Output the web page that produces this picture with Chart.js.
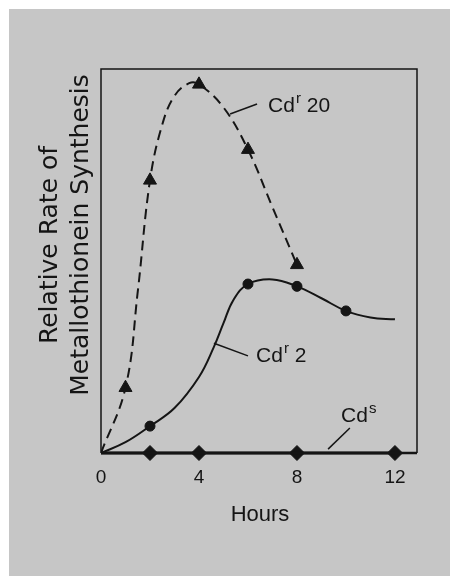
<!DOCTYPE html>
<html>
<head>
<meta charset="utf-8">
<script src="https://cdn.jsdelivr.net/npm/chart.js@4"></script>
<style>
  html, body { margin: 0; padding: 0; background: #fff; }
  canvas { display: block; }
</style>
</head>
<body>
<canvas id="chart" width="450" height="576"></canvas>
<script>
// ------------------------
// Data (hours vs relative rate, 0-100)
// ------------------------
const xTicks = [0, 4, 8, 12];

// Cd^r 20: measured points (triangles) and the traced dashed curve
const cd20Hours = [1, 2, 4, 6, 8];
const cd20Rate = [17, 71, 96, 79, 49];
const cd20CurveHours = [0, 1, 1.5, 2, 2.5, 3, 3.6, 4, 5, 6, 7, 8];
const cd20CurveRate = [0, 17, 42, 71, 85.5, 93, 96.3, 96, 90, 79, 64, 49];

// Cd^r 2: measured points (circles) and the traced solid curve
const cd2Hours = [2, 6, 8, 10];
const cd2Rate = [7, 44, 43.4, 37];
const cd2CurveHours = [0, 1, 2, 3, 4, 4.6, 5, 5.4, 6, 7, 8, 9, 10, 11, 12];
const cd2CurveRate = [0, 2.8, 7, 11.7, 19.8, 27.5, 33.8, 39.8, 44, 45.2, 43.4, 40.3, 37, 35.3, 34.8];

// Cd^s: measured points (diamonds) along the baseline
const cdsHours = [2, 4, 8, 12];
const cdsRate = [0, 0, 0, 0];
const cdsLineHours = [0, 12];
const cdsLineRate = [0, 0];

// curve labels: [text, superscript, rest, labelX, labelY, leaderFrom, leaderTo] in data units
const curveLabels = [
    ["Cd", "r", " 20", 6.82, 88.8, [5.27, 88.3], [6.37, 90.9]],
    ["Cd", "r", " 2", 6.33, 23.7, [4.61, 28.6], [6.0, 25.3]],
    ["Cd", "s", "", 9.8, 8.1, [9.27, 1.0], [10.16, 6.5]],
];

const INK = "#151515";
const PAPER = "#c6c6c6";
const FONT = "'Liberation Sans', Arial, sans-serif";

const pts = (xs, ys) => xs.map((x, i) => ({ x: x, y: ys[i] }));

// ------------------------
// Background, frame and annotations
// ------------------------
const paperPlugin = {
    id: "paper",
    beforeDraw(chart) {
        const ctx = chart.ctx;
        ctx.save();
        ctx.fillStyle = "#fff";
        ctx.fillRect(0, 0, chart.width, chart.height);
        ctx.fillStyle = PAPER;
        ctx.fillRect(9, 9, chart.width - 9, chart.height - 9);
        ctx.restore();
    },
    beforeDatasetsDraw(chart) {
        const { ctx, chartArea: a } = chart;
        ctx.save();
        ctx.strokeStyle = INK;
        ctx.lineWidth = 1.5;
        ctx.beginPath();
        ctx.moveTo(a.left, a.bottom);
        ctx.lineTo(a.left, a.top);
        ctx.lineTo(a.right, a.top);
        ctx.lineTo(a.right, a.bottom);
        ctx.stroke();
        ctx.lineWidth = 2.5;
        ctx.beginPath();
        ctx.moveTo(a.left, a.bottom);
        ctx.lineTo(a.right, a.bottom);
        ctx.stroke();
        ctx.restore();
    },
    afterDatasetsDraw(chart) {
        const ctx = chart.ctx;
        const xs = chart.scales.x, ys = chart.scales.y;
        ctx.save();
        ctx.fillStyle = INK;
        ctx.strokeStyle = INK;
        ctx.lineWidth = 1.5;
        curveLabels.forEach(([main, sup, rest, lx, ly, from, to]) => {
            ctx.beginPath();
            ctx.moveTo(xs.getPixelForValue(from[0]), ys.getPixelForValue(from[1]));
            ctx.lineTo(xs.getPixelForValue(to[0]), ys.getPixelForValue(to[1]));
            ctx.stroke();

            let px = xs.getPixelForValue(lx);
            const py = ys.getPixelForValue(ly);
            ctx.textAlign = "left";
            ctx.textBaseline = "alphabetic";
            ctx.font = "21px " + FONT;
            ctx.fillText(main, px, py);
            px += ctx.measureText(main).width + 1;
            ctx.font = "15px " + FONT;
            ctx.fillText(sup, px, py - 9);
            px += ctx.measureText(sup).width;
            ctx.font = "21px " + FONT;
            ctx.fillText(rest, px, py);
        });

        // axis titles
        ctx.font = "22px " + FONT;
        ctx.textAlign = "center";
        ctx.textBaseline = "alphabetic";
        ctx.fillText("Hours", 260, 521);

        ctx.font = "25px 'DejaVu Sans', sans-serif";
        ctx.translate(57, 245);
        ctx.rotate(-Math.PI / 2);
        ctx.fillText("Relative Rate of", 0, 0);
        ctx.rotate(Math.PI / 2);
        ctx.translate(31, -10);
        ctx.rotate(-Math.PI / 2);
        ctx.fillText("Metallothionein Synthesis", 0, 0);
        ctx.restore();
    },
};

// ------------------------
// Chart
// ------------------------
new Chart(document.getElementById("chart"), {
    type: "scatter",
    data: {
        datasets: [
            {
                label: "Cdr 20 curve",
                data: pts(cd20CurveHours, cd20CurveRate),
                showLine: true,
                borderColor: INK,
                borderWidth: 2,
                borderDash: [10, 6],
                tension: 0.4,
                pointRadius: 0,
            },
            {
                label: "Cdr 2 curve",
                data: pts(cd2CurveHours, cd2CurveRate),
                showLine: true,
                borderColor: INK,
                borderWidth: 2,
                tension: 0.4,
                pointRadius: 0,
            },
            {
                label: "Cds line",
                data: pts(cdsLineHours, cdsLineRate),
                showLine: true,
                borderColor: INK,
                borderWidth: 3,
                pointRadius: 0,
                clip: false,
            },
            {
                label: "Cdr 20",
                data: pts(cd20Hours, cd20Rate),
                pointStyle: "triangle",
                pointRadius: 7.5,
                backgroundColor: INK,
                borderColor: INK,
                borderWidth: 1,
                clip: false,
            },
            {
                label: "Cdr 2",
                data: pts(cd2Hours, cd2Rate),
                pointStyle: "circle",
                pointRadius: 5,
                backgroundColor: INK,
                borderColor: INK,
                borderWidth: 1,
                clip: false,
            },
            {
                label: "Cds",
                data: pts(cdsHours, cdsRate),
                pointStyle: "rectRot",
                pointRadius: 7.5,
                backgroundColor: INK,
                borderColor: INK,
                borderWidth: 1,
                clip: false,
            },
        ],
    },
    options: {
        responsive: false,
        animation: false,
        layout: { padding: { top: 69, right: 33, left: 0, bottom: 0 } },
        plugins: { legend: { display: false }, tooltip: { enabled: false } },
        scales: {
            x: {
                type: "linear",
                min: 0,
                max: 12.9,
                grid: { display: false, drawTicks: false },
                border: { display: false },
                afterBuildTicks: (s) => { s.ticks = xTicks.map((v) => ({ value: v })); },
                afterFit: (s) => { s.height = 123; },
                ticks: {
                    color: INK,
                    padding: 13,
                    font: { family: FONT, size: 19 },
                },
            },
            y: {
                type: "linear",
                min: 0,
                max: 100,
                grid: { display: false, drawTicks: false },
                border: { display: false },
                ticks: { display: false },
                afterFit: (s) => { s.width = 101; },
            },
        },
    },
    plugins: [paperPlugin],
});
</script>
</body>
</html>
